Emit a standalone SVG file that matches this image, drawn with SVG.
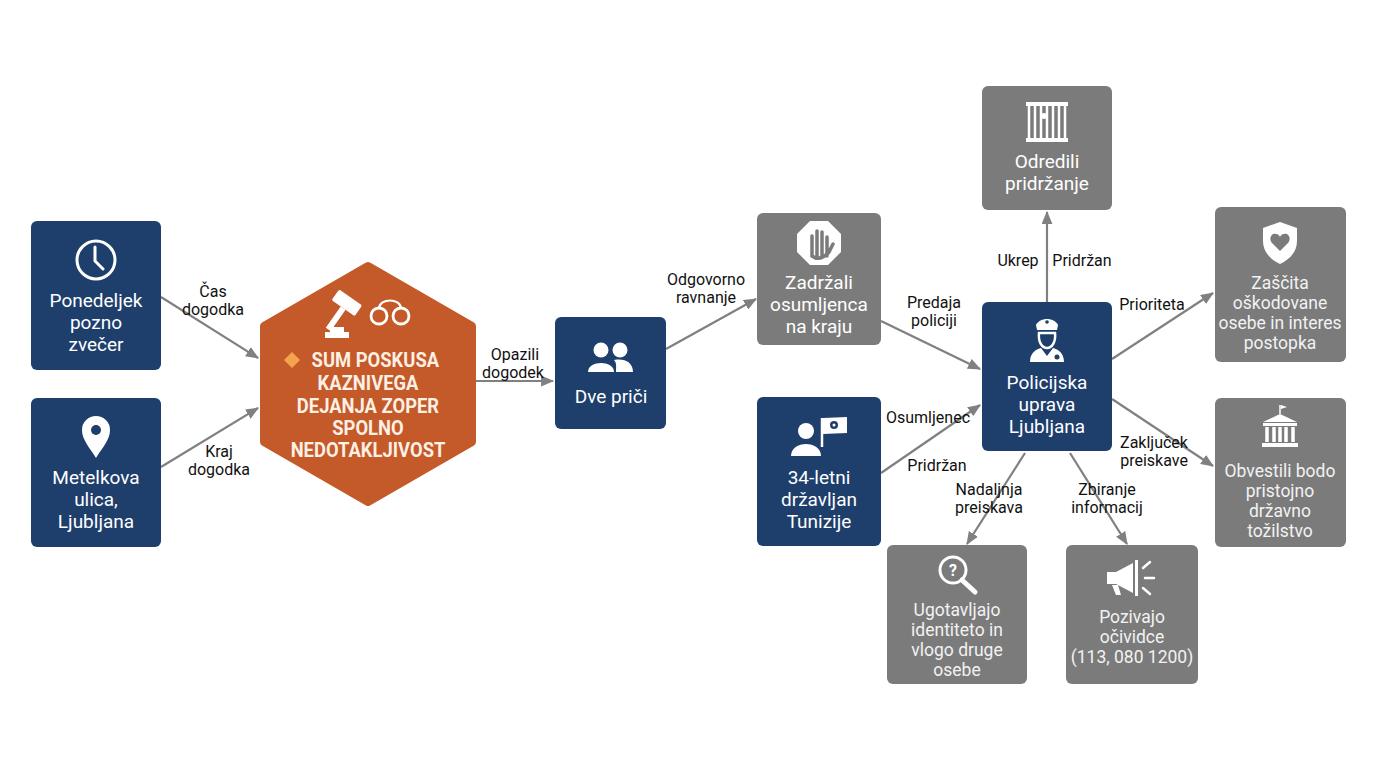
<svg xmlns="http://www.w3.org/2000/svg" width="1376" height="768" viewBox="0 0 1376 768">
<defs>
<style>
.navy{fill:#1e3e6c}
.gray{fill:#7b7b7b}
.nt{font-family:Roboto,"Liberation Sans",sans-serif;font-size:19px;fill:#ffffff;text-anchor:middle}
.gt{font-family:Roboto,"Liberation Sans",sans-serif;font-size:17.5px;fill:#f2f2f2;text-anchor:middle}
.ht{font-family:Roboto,"Liberation Sans",sans-serif;font-size:20px;font-weight:bold;fill:#fdf0e4;text-anchor:middle}
.lb{font-family:Roboto,"Liberation Sans",sans-serif;font-size:16px;fill:#111111;text-anchor:middle}
.ln{stroke:#808080;stroke-width:2.2;fill:none;marker-end:url(#ah)}
.ic{fill:#ffffff}
.is{fill:none;stroke:#ffffff;stroke-width:3;stroke-linecap:round}
</style>
<marker id="ah" viewBox="0 0 12 10" refX="11" refY="5" markerWidth="13" markerHeight="11" markerUnits="userSpaceOnUse" orient="auto">
<path d="M0,0 L12,5 L0,10 Z" fill="#808080"/>
</marker>
</defs>
<rect width="1376" height="768" fill="#ffffff"/>

<g id="connectors">
<line class="ln" x1="161" y1="297" x2="258" y2="358"/>
<line class="ln" x1="161" y1="467" x2="258" y2="408"/>
<line class="ln" x1="476" y1="381" x2="553" y2="381"/>
<line class="ln" x1="666" y1="349" x2="756" y2="299"/>
<line class="ln" x1="881" y1="321" x2="980" y2="369"/>
<line class="ln" x1="881" y1="473" x2="980" y2="405"/>
<line class="ln" x1="1047" y1="302" x2="1047" y2="212"/>
<line class="ln" x1="1112" y1="359" x2="1213" y2="293"/>
<line class="ln" x1="1112" y1="399" x2="1213" y2="466"/>
<line class="ln" x1="1025" y1="453" x2="967" y2="544"/>
<line class="ln" x1="1070" y1="453" x2="1127" y2="544"/>
<text class="lb" x="213" y="297">Čas</text>
<text class="lb" x="213" y="315">dogodka</text>
<text class="lb" x="219" y="457">Kraj</text>
<text class="lb" x="219" y="475">dogodka</text>
<text class="lb" x="515" y="360">Opazili</text>
<text class="lb" x="513" y="378">dogodek</text>
<text class="lb" x="706" y="285">Odgovorno</text>
<text class="lb" x="706" y="303">ravnanje</text>
<text class="lb" x="934" y="308">Predaja</text>
<text class="lb" x="934" y="326">policiji</text>
<text class="lb" x="928" y="423">Osumljenec</text>
<text class="lb" x="937" y="471">Pridržan</text>
<text class="lb" x="1018" y="266">Ukrep</text>
<text class="lb" x="1082" y="266">Pridržan</text>
<text class="lb" x="1152" y="310">Prioriteta</text>
<text class="lb" x="1154" y="448">Zaključek</text>
<text class="lb" x="1154" y="466">preiskave</text>
<text class="lb" x="989" y="495">Nadaljnja</text>
<text class="lb" x="989" y="513">preiskava</text>
<text class="lb" x="1107" y="495">Zbiranje</text>
<text class="lb" x="1107" y="513">informacij</text>
</g>

<g id="n-cas">
<rect class="navy" x="31" y="221" width="130" height="149" rx="6"/>
<circle cx="96" cy="260" r="19" class="is"/>
<path d="M95,247 L95,261 L103,269" class="is"/>
<text class="nt" x="96" y="307">Ponedeljek</text>
<text class="nt" x="96" y="329">pozno</text>
<text class="nt" x="96" y="351">zvečer</text>
</g>

<g id="n-kraj">
<rect class="navy" x="31" y="398" width="130" height="149" rx="6"/>
<path d="M96,458 C90,448 82,440 82,430 A14,14 0 1 1 110,430 C110,440 102,448 96,458 Z" class="ic"/>
<circle cx="96" cy="430" r="5" fill="#1e3e6c"/>
<text class="nt" x="96" y="484">Metelkova</text>
<text class="nt" x="96" y="506">ulica,</text>
<text class="nt" x="96" y="528">Ljubljana</text>
</g>

<g id="n-sum">
<polygon points="368,266 472,326 472,442 368,502 264,442 264,326" fill="#c45a29" stroke="#c45a29" stroke-width="8" stroke-linejoin="round"/>
<g transform="translate(346,304) rotate(35)">
<rect x="-14" y="-8" width="28" height="13" rx="1.5" class="ic"/>
<rect x="-3" y="5" width="6" height="26" class="ic"/>
</g>
<rect x="325" y="332" width="24" height="6" class="ic"/>
<rect x="330" y="327" width="14" height="5" class="ic"/>
<circle cx="379" cy="316" r="8" fill="none" stroke="#ffffff" stroke-width="2.8"/>
<circle cx="401" cy="316" r="8" fill="none" stroke="#ffffff" stroke-width="2.8"/>
<path d="M379,308 C380,298 400,298 401,308" fill="none" stroke="#ffffff" stroke-width="2.2"/>
<path d="M284,360 L292,352 L300,360 L292,368 Z" fill="#f4a24c"/>
<g transform="translate(368,0) scale(0.92,1) translate(-368,0)">
<text class="ht" x="376" y="367">SUM POSKUSA</text>
<text class="ht" x="368" y="390">KAZNIVEGA</text>
<text class="ht" x="368" y="413">DEJANJA ZOPER</text>
<text class="ht" x="368" y="435">SPOLNO</text>
<text class="ht" x="368" y="457">NEDOTAKLJIVOST</text>
</g>
</g>

<g id="n-prici">
<rect class="navy" x="555" y="317" width="111" height="112" rx="6"/>
<circle cx="601" cy="350" r="7.5" class="ic"/>
<circle cx="620" cy="350" r="7.5" class="ic"/>
<path d="M588,372 C588,360 614,360 614,372 Z" class="ic"/>
<path d="M616,372 L633,372 C633,362 624,358 614,360 C617,363 616,368 616,372 Z" class="ic"/>
<text class="nt" x="611" y="403">Dve priči</text>
</g>

<g id="n-zadrzali">
<rect class="gray" x="757" y="213" width="124" height="132" rx="6"/>
<polygon points="810,221 828,221 841,234 841,252 828,265 810,265 797,252 797,234" class="ic"/>
<path d="M812,256 L812,236 M817,256 L817,231 M822,256 L822,232 M827,256 L827,237 M812,240 L812,256 Q820,262 829,252 L833,244" stroke="#7b7b7b" stroke-width="3.5" stroke-linecap="round" fill="none"/>
<text class="nt" x="819" y="289">Zadržali</text>
<text class="nt" x="819" y="311">osumljenca</text>
<text class="nt" x="819" y="333">na kraju</text>
</g>

<g id="n-tunizija">
<rect class="navy" x="757" y="397" width="124" height="149" rx="6"/>
<circle cx="806" cy="431" r="8" class="ic"/>
<path d="M791,456 C791,440 821,440 821,456 Z" class="ic"/>
<path d="M822,447 L822,418" stroke="#ffffff" stroke-width="2.5"/>
<path d="M823,418 L847,417 L847,433 L823,434 Z" class="ic"/>
<circle cx="834" cy="425" r="4" fill="#1e3e6c"/>
<circle cx="834" cy="425" r="1.5" class="ic"/>
<text class="nt" x="819" y="484">34-letni</text>
<text class="nt" x="819" y="506">državljan</text>
<text class="nt" x="819" y="528">Tunizije</text>
</g>

<g id="n-policija">
<rect class="navy" x="982" y="302" width="130" height="149" rx="6"/>
<path d="M1036,325 C1040,317 1054,317 1058,325 L1057,330 L1037,330 Z" class="ic"/>
<circle cx="1047" cy="322" r="1.8" fill="#1e3e6c"/>
<path d="M1039,333 L1055,333 C1056,342 1052,348 1047,348 C1042,348 1038,342 1039,333 Z" fill="none" stroke="#ffffff" stroke-width="2.5"/>
<path d="M1030,362 C1030,352 1037,349 1041,348 L1047,356 L1053,348 C1057,349 1064,352 1064,362 Z" class="ic"/>
<circle cx="1057" cy="357" r="2.5" fill="#1e3e6c"/>
<text class="nt" x="1047" y="389">Policijska</text>
<text class="nt" x="1047" y="411">uprava</text>
<text class="nt" x="1047" y="433">Ljubljana</text>
</g>

<g id="n-pridrzanje">
<rect class="gray" x="982" y="86" width="130" height="124" rx="6"/>
<rect x="1026" y="102" width="42" height="4" class="ic"/>
<rect x="1026" y="138" width="42" height="4" class="ic"/>
<path d="M1029,106 V138 M1035,106 V138 M1041,106 V138 M1047,106 V138 M1053,106 V138 M1059,106 V138 M1065,106 V138" stroke="#ffffff" stroke-width="2.5"/>
<circle cx="1044" cy="116" r="3" class="ic"/>
<text class="nt" x="1047" y="168">Odredili</text>
<text class="nt" x="1047" y="190">pridržanje</text>
</g>

<g id="n-zascita">
<rect class="gray" x="1215" y="207" width="131" height="155" rx="6"/>
<path d="M1280,222 L1297,228 L1297,241 C1297,252 1290,259 1280,264 C1270,259 1263,252 1263,241 L1263,228 Z" class="ic"/>
<path d="M1280,251 L1272,243 C1268,238 1272,233 1276,234 C1278,234 1279,235 1280,237 C1281,235 1282,234 1284,234 C1288,233 1292,238 1288,243 Z" fill="#7b7b7b"/>
<text class="gt" x="1280" y="289">Zaščita</text>
<text class="gt" x="1280" y="309">oškodovane</text>
<text class="gt" x="1280" y="329">osebe in interes</text>
<text class="gt" x="1280" y="349">postopka</text>
</g>

<g id="n-tozilstvo">
<rect class="gray" x="1215" y="398" width="131" height="149" rx="6"/>
<path d="M1280,405 V414" stroke="#ffffff" stroke-width="1.5"/>
<path d="M1281,405 L1287,407 L1281,409 Z" class="ic"/>
<path d="M1263,422 L1280,414 L1297,422 Z" class="ic"/>
<rect x="1263" y="423" width="34" height="3" class="ic"/>
<path d="M1267,427 V442 M1274,427 V442 M1280,427 V442 M1286,427 V442 M1293,427 V442" stroke="#ffffff" stroke-width="3.5"/>
<rect x="1262" y="443" width="36" height="4" class="ic"/>
<text class="gt" x="1280" y="477">Obvestili bodo</text>
<text class="gt" x="1280" y="497">pristojno</text>
<text class="gt" x="1280" y="517">državno</text>
<text class="gt" x="1280" y="537">tožilstvo</text>
</g>

<g id="n-identiteta">
<rect class="gray" x="887" y="545" width="140" height="139" rx="6"/>
<circle cx="953" cy="570" r="13" fill="none" stroke="#ffffff" stroke-width="3"/>
<path d="M962,580 L975,592" stroke="#ffffff" stroke-width="5" stroke-linecap="round"/>
<text x="953" y="576" font-family="Roboto,'Liberation Sans',sans-serif" font-size="16" font-weight="bold" fill="#ffffff" text-anchor="middle">?</text>
<text class="gt" x="957" y="616">Ugotavljajo</text>
<text class="gt" x="957" y="636">identiteto in</text>
<text class="gt" x="957" y="656">vlogo druge</text>
<text class="gt" x="957" y="676">osebe</text>
</g>

<g id="n-ocividci">
<rect class="gray" x="1066" y="545" width="132" height="139" rx="6"/>
<path d="M1107,572 L1116,572 L1133,563 L1133,593 L1116,584 L1107,584 Z" class="ic"/>
<path d="M1112,585 L1116,595 L1121,595 L1118,585 Z" class="ic"/>
<rect x="1135" y="560" width="3" height="36" class="ic"/>
<path d="M1143,568 L1150,562 M1145,578 L1154,578 M1143,588 L1150,594" stroke="#ffffff" stroke-width="2.5" stroke-linecap="round"/>
<text class="gt" x="1132" y="623">Pozivajo</text>
<text class="gt" x="1132" y="643">očividce</text>
<text class="gt" x="1132" y="663">(113, 080 1200)</text>
</g>
</svg>
